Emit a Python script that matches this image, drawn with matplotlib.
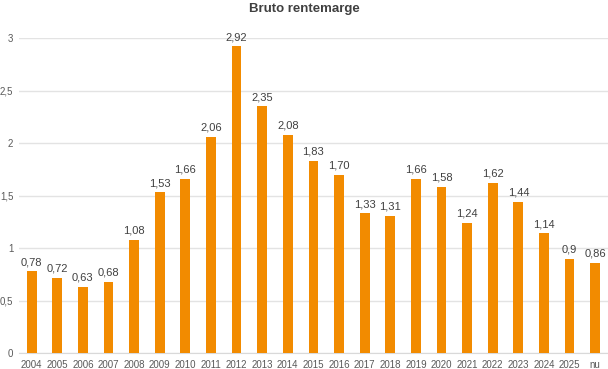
import matplotlib.pyplot as plt
import numpy as np

plt.rcParams['font.family'] = ['Liberation Sans', 'DejaVu Sans']

years = ['2004', '2005', '2006', '2007', '2008', '2009', '2010', '2011', '2012',
         '2013', '2014', '2015', '2016', '2017', '2018', '2019', '2020', '2021',
         '2022', '2023', '2024', '2025', 'nu']
values = [0.78, 0.72, 0.63, 0.68, 1.08, 1.53, 1.66, 2.06, 2.92, 2.35, 2.08, 1.83,
          1.70, 1.33, 1.31, 1.66, 1.58, 1.24, 1.62, 1.44, 1.14, 0.9, 0.86]
labels = ['0,78', '0,72', '0,63', '0,68', '1,08', '1,53', '1,66', '2,06', '2,92',
          '2,35', '2,08', '1,83', '1,70', '1,33', '1,31', '1,66', '1,58', '1,24',
          '1,62', '1,44', '1,14', '0,9', '0,86']
yticks = [0, 0.5, 1, 1.5, 2, 2.5, 3]
ytick_labels = ['0', '0,5', '1', '1,5', '2', '2,5', '3']

fig = plt.figure(figsize=(6.08, 3.69), dpi=100)
ax = fig.add_axes([0.031, 0.043, 0.969, 0.854])
x = np.arange(len(years))
ax.bar(x, values, width=0.38, color='#F28B00', zorder=3)
for xi, v, lab in zip(x, values, labels):
    ax.annotate(lab, (xi, v), xytext=(0, 3), textcoords='offset points',
                ha='center', va='bottom', fontsize=8, color='#404040',
                annotation_clip=False)

ax.set_xlim(-0.5, len(years) - 0.5)
ax.set_ylim(0, 3)
ax.set_yticks(yticks)
ax.set_yticklabels(ytick_labels)
ax.set_xticks(x)
ax.set_xticklabels(years)
ax.tick_params(axis='both', length=0, labelsize=7, colors='#595959')
ax.tick_params(axis='y', pad=4)
ax.tick_params(axis='x', pad=5)
ax.grid(axis='y', color='#E3E3E3', linewidth=1, zorder=0)
for s in ['top', 'right', 'left']:
    ax.spines[s].set_visible(False)
ax.spines['bottom'].set_color('#D9D9D9')

fig.text(0.5, 0.975, 'Bruto rentemarge', ha='center', va='center',
         fontsize=9.5, fontweight='bold', color='#404040')

fig.savefig('out.png', dpi=100)
